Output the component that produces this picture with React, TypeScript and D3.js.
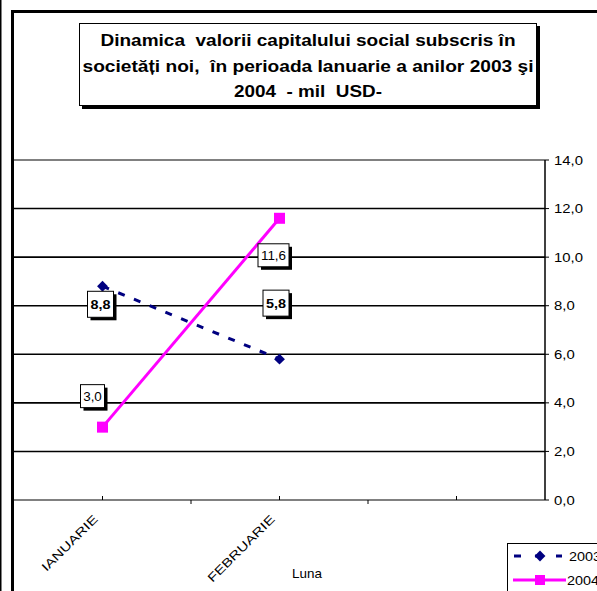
import React from "react";
import * as d3 from "d3";

// chart data
const categories = ["IANUARIE", "FEBRUARIE", ""];
const series2003 = [8.8, 5.8];
const series2004 = [3.0, 11.6];
const seriesNames = ["2003", "2004"];
const yTicks = [0, 2, 4, 6, 8, 10, 12, 14];
const titleLines = [
  "Dinamica  valorii capitalului social subscris în",
  "societăți noi,  în perioada Ianuarie a anilor 2003 şi",
  "2004  - mil  USD-",
];
const titleWidths = [415, 451, 148];

// where the data labels sit relative to their point (manual placement, as in source)
const labelOffsets2003 = [
  [-2, 18],
  [-3.5, -56],
];
const labelOffsets2004 = [
  [-10, -31],
  [-6, 37],
];

const W = 597;
const H = 591;
const font = "'Liberation Sans', Arial, sans-serif";
const navy = "#000080";
const magenta = "#FF00FF";

const left = 14;
const right = 545;
const top = 160;
const bottom = 500;

const x = d3.scaleBand().domain(categories).range([left, right]);
const y = d3.scaleLinear().domain([0, 14]).range([bottom, top]);
const cx = (i: number) => (x(categories[i]) as number) + x.bandwidth() / 2;

const fmt = (v: number) => v.toFixed(1).replace(".", ",");

// the source picture is a bit stretched sideways, so text gets a horizontal scale
function T({ x, y, s = 1.2, rot = 0, anchor = "start", size = 12, bold = false, children }) {
  return (
    <text
      transform={`translate(${x},${y}) rotate(${rot}) scale(${s},1)`}
      textAnchor={anchor}
      fontFamily={font}
      fontSize={size}
      fontWeight={bold ? "bold" : "normal"}
    >
      {children}
    </text>
  );
}

function DataLabel({ px, py, text, bold }) {
  const w = bold ? 26 : text.length > 3 ? 31 : 24;
  const h = bold ? 26 : 23;
  const bx = px - w / 2;
  const by = py - h / 2;
  return (
    <g>
      <rect x={bx + 3} y={by + 3} width={w} height={h} fill="#000" />
      <rect x={bx} y={by} width={w} height={h} fill="#fff" stroke="#000" strokeWidth={1} />
      <T x={px} y={py + 4.5} anchor="middle" bold={bold} s={bold ? 1.2 : 1.12}>
        {text}
      </T>
    </g>
  );
}

export default function App() {
  const line = d3
    .line<number>()
    .x((_, i) => cx(i))
    .y((d) => y(d));

  const diamond = d3.symbol().type(d3.symbolDiamond2).size(75);

  return (
    <svg
      width={W}
      height={H}
      style={{ position: "absolute", left: 0, top: 0, background: "#fff" }}
    >
      {/* outer frames */}
      <line x1={0.5} y1={0} x2={0.5} y2={H} stroke="#000" strokeWidth={2} />
      <path d={`M12.5,${H} V11.5 H${W}`} fill="none" stroke="#000" strokeWidth={3} />

      {/* title box */}
      <rect x={82} y={26} width={458} height={83} fill="#000" />
      <rect x={79.5} y={23.5} width={457} height={82} fill="#fff" stroke="#000" strokeWidth={1} />
      {titleLines.map((t, i) => (
        <text
          key={i}
          x={308}
          y={46 + i * 25.5}
          textAnchor="middle"
          fontFamily={font}
          fontSize={16.5}
          fontWeight="bold"
          textLength={titleWidths[i]}
          lengthAdjust="spacingAndGlyphs"
          xmlSpace="preserve"
          style={{ whiteSpace: "pre" }}
        >
          {t}
        </text>
      ))}

      {/* gridlines */}
      {yTicks.map((t) => (
        <line
          key={t}
          x1={left}
          x2={right}
          y1={y(t)}
          y2={y(t)}
          stroke={t === 0 || t === 14 ? "#808080" : "#000"}
          strokeWidth={t === 0 || t === 14 ? 2 : 1.6}
        />
      ))}

      {/* right value axis */}
      <line x1={right} x2={right} y1={top} y2={bottom} stroke="#000" strokeWidth={1.5} />
      {yTicks.map((t) => (
        <g key={t}>
          <line x1={right} x2={right + 4} y1={y(t)} y2={y(t)} stroke="#000" strokeWidth={1} />
          <T x={right + 9} y={y(t) + 4.5} s={1.24}>
            {fmt(t)}
          </T>
        </g>
      ))}

      {/* category axis ticks */}
      {categories.map((c, i) => (
        <line key={"c" + i} x1={cx(i)} x2={cx(i)} y1={bottom} y2={bottom - 4} stroke="#000" />
      ))}
      {categories.slice(1).map((c, i) => (
        <line
          key={"b" + i}
          x1={x(c)}
          x2={x(c)}
          y1={bottom}
          y2={bottom + 4}
          stroke="#000"
        />
      ))}
      {categories.map((c, i) => (
        <T key={"l" + i} x={cx(i) - 4} y={bottom + 20} rot={-45} anchor="end" s={1.3}>
          {c}
        </T>
      ))}
      <T x={307} y={578} anchor="middle" s={1.12}>
        Luna
      </T>

      {/* series 2003 */}
      <path
        d={line(series2003) as string}
        fill="none"
        stroke={navy}
        strokeWidth={3}
        strokeDasharray="7,10"
      />
      {series2003.map((v, i) => (
        <path key={i} d={diamond() as string} transform={`translate(${cx(i)},${y(v)})`} fill={navy} />
      ))}

      {/* series 2004 */}
      <path d={line(series2004) as string} fill="none" stroke={magenta} strokeWidth={3} />
      {series2004.map((v, i) => (
        <rect key={i} x={cx(i) - 5.5} y={y(v) - 5.5} width={11} height={11} fill={magenta} />
      ))}

      {/* data labels */}
      {series2003.map((v, i) => (
        <DataLabel
          key={"a" + i}
          px={cx(i) + labelOffsets2003[i][0]}
          py={y(v) + labelOffsets2003[i][1]}
          text={fmt(v)}
          bold
        />
      ))}
      {series2004.map((v, i) => (
        <DataLabel
          key={"b" + i}
          px={cx(i) + labelOffsets2004[i][0]}
          py={y(v) + labelOffsets2004[i][1]}
          text={fmt(v)}
          bold={false}
        />
      ))}

      {/* legend */}
      <rect x={507.5} y={543.5} width={120} height={80} fill="#fff" stroke="#000" strokeWidth={1} />
      <line
        x1={514}
        x2={562}
        y1={556}
        y2={556}
        stroke={navy}
        strokeWidth={3}
        strokeDasharray="7,14"
      />
      <path d={diamond() as string} transform="translate(540,556)" fill={navy} />
      <T x={569} y={560.5} s={1.2}>
        {seriesNames[0]}
      </T>
      <line x1={513} x2={566} y1={580} y2={580} stroke={magenta} strokeWidth={3} />
      <rect x={535} y={575} width={10} height={10} fill={magenta} />
      <T x={567} y={584.5} s={1.2}>
        {seriesNames[1]}
      </T>
    </svg>
  );
}
